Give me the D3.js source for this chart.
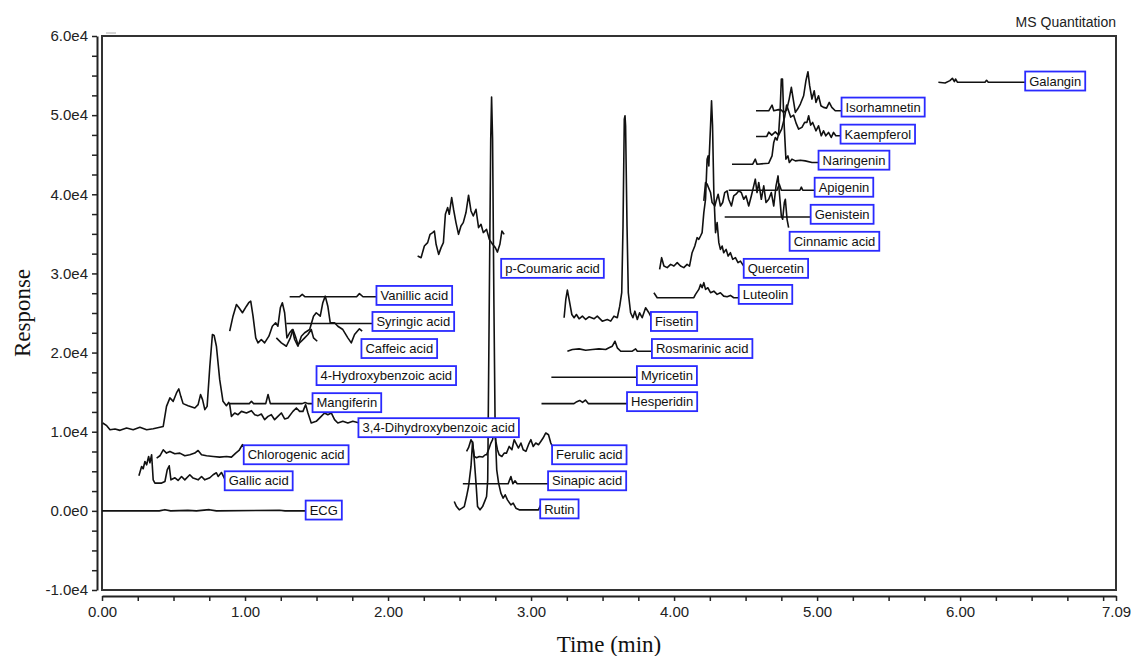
<!DOCTYPE html>
<html>
<head>
<meta charset="utf-8">
<script src="https://cdn.jsdelivr.net/npm/d3@7"></script>
<style>
  body { margin: 0; background: #fff; }
  text { font-family: Arial, "Liberation Sans", sans-serif; }
</style>
</head>
<body>
<div id="chart"></div>
<script>

// each trace: [time (min), response]
var ecg = [[0,0],[0.40,0],[0.44,150],[0.48,0],[0.60,60],[0.66,0],[0.75,150],[0.80,0],[1.24,80],[1.28,0],[1.424,0]];

var gallicAcid = [[0.258,4430],[0.277,5610],[0.288,5320],[0.300,6240],[0.312,5820],[0.326,6870],[0.335,6080],[0.347,7090],[0.358,3920],[0.370,3510],[0.417,3510],[0.440,3710],[0.456,5190],[0.470,5700],[0.482,3920],[0.510,4180],[0.532,3840],[0.556,4340],[0.579,3920],[0.614,4560],[0.637,4140],[0.672,3920],[0.696,4340],[0.719,3920],[0.754,4180],[0.777,4560],[0.800,4810],[0.812,4340],[0.835,4850],[0.858,4050]];

var chlorogenicAcid = [[0.382,6670],[0.405,6960],[0.428,7720],[0.451,7300],[0.475,7510],[0.509,7220],[0.544,7300],[0.579,6960],[0.614,7090],[0.649,7300],[0.672,7630],[0.696,7090],[0.731,6960],[0.777,6870],[0.823,6790],[0.870,6870],[0.905,6790],[0.935,7300],[0.958,7630],[0.982,8360],[0.998,7940]];

var dihydroxybenzoicAcid = [[0.005,11100],[0.033,10760],[0.056,10250],[0.091,10340],[0.126,10170],[0.172,10470],[0.218,10250],[0.265,10550],[0.312,10250],[0.358,10380],[0.428,10670],[0.451,13200],[0.475,14270],[0.498,13840],[0.521,14900],[0.537,15410],[0.551,14470],[0.567,13550],[0.602,13290],[0.649,13000],[0.672,13420],[0.689,14690],[0.703,14050],[0.719,12790],[0.735,13200],[0.754,18270],[0.772,22280],[0.784,22160],[0.800,20800],[0.823,16580],[0.846,13840],[0.870,13290],[0.886,13710],[0.893,13420],[0.905,11940],[0.928,12370],[0.951,12150],[0.975,12570],[1.010,12370],[1.045,12660],[1.068,12150],[1.091,12030],[1.114,12240],[1.137,11520],[1.161,11940],[1.184,12150],[1.207,11520],[1.230,11940],[1.254,12370],[1.277,11610],[1.300,11740],[1.335,12570],[1.359,13000],[1.382,12570],[1.405,12570],[1.424,13420],[1.440,12370],[1.463,11100],[1.498,11310],[1.533,11940],[1.556,12370],[1.579,12150],[1.603,12370],[1.626,11520],[1.649,11100],[1.684,11310],[1.719,11100],[1.754,11310],[1.800,11100]];

var mangiferin = [[0.893,13550],[1.030,13550],[1.045,13840],[1.060,13550],[1.145,13550],[1.161,14700],[1.177,13550],[1.400,13550],[1.420,13700],[1.440,13550],[1.472,13550]];

var hydroxybenzoicAcid = [[1.219,21860],[1.254,21230],[1.289,20800],[1.317,21860],[1.335,22910],[1.352,22070],[1.370,21020],[1.394,21430],[1.417,21860],[1.440,22280],[1.463,22910],[1.479,21860],[1.505,21430]];

var caffeicAcid = [[0.893,22700],[0.916,24600],[0.940,26080],[0.958,25660],[0.982,25030],[1.010,25860],[1.026,26300],[1.040,26500],[1.056,24600],[1.075,21860],[1.091,21230],[1.114,21650],[1.137,21230],[1.167,22070],[1.191,23330],[1.214,23760],[1.230,23330],[1.247,25660],[1.261,26300],[1.277,25030],[1.293,21860],[1.312,22500],[1.331,22910],[1.347,21650],[1.370,20800],[1.394,22070],[1.417,22500],[1.452,22910],[1.479,24600],[1.498,25030],[1.526,24600],[1.544,26300],[1.561,27130],[1.579,25860],[1.596,23760],[1.626,23760],[1.649,23330],[1.684,22910],[1.719,21860],[1.743,21230],[1.766,22280],[1.800,23000],[1.819,22700]];

var syringicAcid = [[1.289,23670],[1.891,23670]];

var vanillicAcid = [[1.312,27050],[1.380,27050],[1.400,27350],[1.420,27050],[1.780,27050],[1.800,27450],[1.825,27050],[1.919,27050]];

var pCoumaricAcid = [[2.207,32190],[2.231,31990],[2.254,33460],[2.277,33890],[2.294,34940],[2.312,35160],[2.324,35360],[2.336,33680],[2.354,32410],[2.371,33260],[2.387,33890],[2.401,37470],[2.417,38320],[2.428,37470],[2.445,39590],[2.458,38110],[2.475,36420],[2.493,34940],[2.510,35990],[2.526,36420],[2.545,37690],[2.563,39880],[2.580,37890],[2.596,37260],[2.615,38110],[2.633,35790],[2.650,36210],[2.666,35160],[2.689,35570],[2.708,34310],[2.731,33680],[2.750,33260],[2.765,32700],[2.782,33680],[2.796,35360],[2.812,34940]];

var ferulicAcid = [[2.549,7510],[2.563,7980],[2.580,8990],[2.591,8610],[2.603,6870],[2.619,6710],[2.638,6870],[2.661,6800],[2.680,7090],[2.689,7090],[2.708,7980],[2.719,8570],[2.731,8990],[2.743,10250],[2.754,8770],[2.765,7720],[2.777,7090],[2.796,6870],[2.812,7300],[2.828,7300],[2.847,8140],[2.866,7720],[2.882,8990],[2.894,8570],[2.912,7940],[2.929,8570],[2.945,7720],[2.964,7510],[2.982,8360],[2.999,8990],[3.015,8140],[3.033,8570],[3.052,8360],[3.068,8770],[3.084,9200],[3.103,9840],[3.122,9620],[3.138,8570],[3.149,8140]];

var sinapicAcid = [[2.523,3420],[2.840,3420],[2.859,4340],[2.873,3420],[2.888,3800],[2.903,3420],[3.119,3420]];

var rutin = [[2.463,1180],[2.479,540],[2.498,130],[2.517,340],[2.533,540],[2.549,1810],[2.563,3080],[2.580,5610],[2.591,8740],[2.603,6460],[2.615,3540],[2.626,540],[2.643,130],[2.661,540],[2.680,1390],[2.689,1810],[2.697,3920],[2.708,26710],[2.718,46970],[2.724,52290],[2.731,46970],[2.740,26710],[2.749,10250],[2.760,5190],[2.773,3510],[2.789,2240],[2.805,1610],[2.819,2030],[2.835,1390],[2.859,760],[2.875,970],[2.894,340],[2.917,130],[3.052,130],[3.068,760]];

var hesperidin = [[3.073,13550],[3.300,13550],[3.320,13800],[3.340,13950],[3.360,13700],[3.380,14000],[3.400,13550],[3.673,13550]];

var myricetin = [[3.142,16880],[3.743,16880]];

var rosmarinicAcid = [[3.254,20170],[3.289,20380],[3.336,20470],[3.382,20300],[3.429,20380],[3.475,20470],[3.522,20380],[3.545,20600],[3.568,20800],[3.587,21430],[3.603,20600],[3.627,20170],[3.708,20170],[3.731,20470],[3.743,20170],[3.847,20170]];

var fisetin = [[3.231,24400],[3.243,26710],[3.254,27890],[3.266,26710],[3.285,24810],[3.301,24400],[3.317,24810],[3.336,24270],[3.359,24600],[3.382,24180],[3.405,24520],[3.440,24270],[3.463,24600],[3.498,23970],[3.533,24180],[3.557,23970],[3.580,24600],[3.603,24400],[3.620,25860],[3.634,27560],[3.643,35990],[3.652,49500],[3.657,49920],[3.661,48650],[3.671,35990],[3.680,27560],[3.696,25030],[3.712,24400],[3.726,25230],[3.743,24180],[3.759,25030],[3.777,24400],[3.801,25660],[3.824,25030],[3.836,24600]];

var luteolin = [[3.859,27560],[3.882,26930],[4.138,26930],[4.150,27350],[4.173,27980],[4.185,28610],[4.196,28190],[4.208,28830],[4.220,27980],[4.236,28190],[4.255,27560],[4.278,27760],[4.301,27350],[4.324,27560],[4.347,27130],[4.371,27050],[4.394,27220],[4.417,26930],[4.452,26930]];

var quercetin = [[3.899,30510],[3.913,31990],[3.929,30930],[3.952,30730],[3.976,31140],[3.999,30930],[4.022,31360],[4.045,30930],[4.068,30730],[4.091,31140],[4.108,30930],[4.126,32620],[4.145,33460],[4.161,34520],[4.173,34310],[4.185,34730],[4.196,35160],[4.208,37690],[4.220,39370],[4.231,44440],[4.238,44850],[4.243,43590],[4.255,48650],[4.262,51820],[4.269,48650],[4.278,40220],[4.290,35160],[4.301,36420],[4.313,33890],[4.324,33040],[4.336,33460],[4.347,32620],[4.364,33040],[4.378,32190],[4.394,32620],[4.410,31780],[4.429,31990],[4.447,31360],[4.464,31560],[4.487,30930]];

var cinnamicAcid = [[4.208,39160],[4.220,41490],[4.231,41280],[4.255,40220],[4.266,38960],[4.285,38520],[4.294,39160],[4.308,40010],[4.324,38520],[4.340,38960],[4.354,40220],[4.371,40430],[4.382,39370],[4.401,38520],[4.417,39790],[4.433,40010],[4.452,40430],[4.470,40220],[4.487,39370],[4.503,39790],[4.522,38520],[4.540,39790],[4.557,41060],[4.568,41910],[4.580,40220],[4.592,41490],[4.610,39370],[4.627,41060],[4.643,38960],[4.662,39370],[4.680,40220],[4.697,38520],[4.713,41060],[4.727,42320],[4.736,40220],[4.750,37260],[4.759,36840],[4.771,38960],[4.778,39370],[4.790,36840],[4.801,35790]];

var genistein = [[4.354,37130],[4.968,37130]];

var apigenin = [[4.382,40510],[4.720,40510],[4.735,41300],[4.750,40510],[4.880,40510],[4.890,40900],[4.900,40510],[4.987,40510]];

var naringenin = [[4.405,43800],[4.550,43800],[4.568,44440],[4.580,43800],[4.662,43930],[4.685,44850],[4.697,46550],[4.708,47180],[4.720,46840],[4.731,47600],[4.742,50770],[4.750,54560],[4.758,54560],[4.766,50130],[4.773,47600],[4.782,44440],[4.796,44850],[4.806,44020],[4.824,44440],[4.848,44220],[4.883,44310],[4.917,44220],[4.964,44020],[5.010,44020]];

var kaempferol = [[4.573,47310],[4.648,47310],[4.662,47850],[4.683,47470],[4.708,47890],[4.731,47470],[4.752,48240],[4.773,49750],[4.787,51270],[4.801,50510],[4.815,49750],[4.836,50000],[4.853,48990],[4.871,48240],[4.894,48450],[4.913,49080],[4.929,49080],[4.941,49920],[4.955,48740],[4.969,49080],[4.992,48020],[5.010,48650],[5.029,47390],[5.045,48020],[5.061,47390],[5.080,47820],[5.099,47180],[5.115,47820],[5.131,47390],[5.162,47390]];

var isorhamnetin = [[4.573,50550],[4.662,50550],[4.685,51270],[4.697,50550],[4.731,50700],[4.750,50640],[4.766,50350],[4.787,50640],[4.805,52030],[4.820,53510],[4.833,52030],[4.848,50350],[4.864,50770],[4.883,51400],[4.906,52450],[4.922,54350],[4.936,55490],[4.948,53720],[4.964,52030],[4.980,53080],[4.992,51610],[5.010,52450],[5.027,51190],[5.045,50980],[5.066,50890],[5.085,51610],[5.103,50980],[5.127,50550],[5.173,50550]];

var galangin = [[5.848,54150],[5.895,54060],[5.929,54360],[5.946,54660],[5.960,54230],[5.968,54570],[5.982,54150],[6.174,54150],[6.185,54400],[6.197,54150],[6.453,54150]];

var traces = [ecg, gallicAcid, chlorogenicAcid, dihydroxybenzoicAcid, mangiferin, hydroxybenzoicAcid,
  caffeicAcid, syringicAcid, vanillicAcid, pCoumaricAcid, ferulicAcid, sinapicAcid, rutin,
  hesperidin, myricetin, rosmarinicAcid, fisetin, luteolin, quercetin, cinnamicAcid,
  genistein, apigenin, naringenin, kaempferol, isorhamnetin, galangin];

// label name, time of left edge, response of centre
var peakLabels = [
  ["ECG", 1.424, 100],
  ["Gallic acid", 0.858, 3800],
  ["Chlorogenic acid", 0.991, 7090],
  ["3,4-Dihydroxybenzoic acid", 1.793, 10510],
  ["Mangiferin", 1.472, 13670],
  ["4-Hydroxybenzoic acid", 1.500, 17090],
  ["Caffeic acid", 1.814, 20510],
  ["Syringic acid", 1.891, 23930],
  ["Vanillic acid", 1.919, 27220],
  ["p-Coumaric acid", 2.791, 30640],
  ["Ferulic acid", 3.147, 7090],
  ["Sinapic acid", 3.119, 3800],
  ["Rutin", 3.064, 250],
  ["Hesperidin", 3.671, 13800],
  ["Myricetin", 3.740, 17090],
  ["Rosmarinic acid", 3.845, 20510],
  ["Fisetin", 3.838, 23930],
  ["Luteolin", 4.452, 27350],
  ["Quercetin", 4.487, 30640],
  ["Cinnamic acid", 4.808, 34060],
  ["Genistein", 4.955, 37470],
  ["Apigenin", 4.983, 40890],
  ["Naringenin", 5.010, 44310],
  ["Kaempferol", 5.164, 47600],
  ["Isorhamnetin", 5.171, 51020],
  ["Galangin", 6.455, 54310]
];

var xTickValues = [0, 1, 2, 3, 4, 5, 6, 7.09];
var yTickValues = [-10000, 0, 10000, 20000, 30000, 40000, 50000, 60000];
var yTickLabels = ["-1.0e4", "0.0e0", "1.0e4", "2.0e4", "3.0e4", "4.0e4", "5.0e4", "6.0e4"];

var width = 1132, height = 656;
var plot = {left: 102, right: 1116, top: 36, bottom: 590};

var svg = d3.select("#chart").append("svg")
  .attr("width", width)
  .attr("height", height);

var xScale = d3.scaleLinear().domain([0, 7.09]).range([plot.left, plot.right]);
var yScale = d3.scaleLinear().domain([-10000, 60000]).range([plot.bottom, plot.top]);

// frame
svg.append("rect")
  .attr("x", plot.left)
  .attr("y", plot.top)
  .attr("width", plot.right - plot.left)
  .attr("height", plot.bottom - plot.top)
  .attr("fill", "none")
  .attr("stroke", "#333")
  .attr("stroke-width", 2);

svg.append("line")
  .attr("x1", 106).attr("x2", 116)
  .attr("y1", 33).attr("y2", 33)
  .attr("stroke", "#aaa");

// offset axes, Origin style
var minorX = d3.range(0, 7.01, 0.25).concat([7.09]);
var xAxis = d3.axisBottom(xScale)
  .tickValues(minorX)
  .tickSize(5)
  .tickSizeOuter(0)
  .tickFormat(function(d){ return xTickValues.indexOf(d) >= 0 ? d3.format(".2f")(d) : ""; });

svg.append("g")
  .attr("class", "x axis")
  .attr("transform", "translate(0," + (plot.bottom + 6) + ")")
  .call(xAxis);

var minorY = d3.range(-10000, 60001, 2500);
var yAxis = d3.axisLeft(yScale)
  .tickValues(minorY)
  .tickSize(5)
  .tickSizeOuter(0)
  .tickFormat(function(d){
    var i = yTickValues.indexOf(d);
    return i >= 0 ? yTickLabels[i] : "";
  });

svg.append("g")
  .attr("class", "y axis")
  .attr("transform", "translate(" + (plot.left - 5) + ",0)")
  .call(yAxis);

svg.selectAll(".axis path").attr("stroke", "#222").attr("stroke-width", 2);
svg.selectAll(".axis line").attr("stroke", "#222").attr("stroke-width", 1.5);
svg.selectAll(".axis text")
  .attr("fill", "#222")
  .style("font-size", "15px")
  .style("font-family", "Arial, 'Liberation Sans', sans-serif");
svg.selectAll(".x.axis text").attr("y", 10);
svg.selectAll(".y.axis text").attr("x", -9);

// traces
var line = d3.line()
  .x(function(d){ return xScale(d[0]); })
  .y(function(d){ return yScale(d[1]); });

svg.append("g")
  .selectAll("path")
  .data(traces)
  .enter()
  .append("path")
  .attr("d", line)
  .attr("fill", "none")
  .attr("stroke", "#111")
  .attr("stroke-width", 1.6)
  .attr("stroke-linejoin", "round");

// labelled boxes
var labels = svg.append("g")
  .selectAll("g")
  .data(peakLabels)
  .enter()
  .append("g")
  .attr("transform", function(d){ return "translate(" + xScale(d[1]) + "," + yScale(d[2]) + ")"; });

labels.append("rect");
labels.append("text")
  .attr("x", 4)
  .attr("dy", "0.36em")
  .attr("fill", "#111")
  .style("font-size", "13px")
  .text(function(d){ return d[0]; });

labels.each(function(){
  var g = d3.select(this);
  var w = g.select("text").node().getComputedTextLength();
  g.select("rect")
    .attr("x", 0)
    .attr("y", -9.5)
    .attr("width", w + 8)
    .attr("height", 19)
    .attr("fill", "#fff")
    .attr("stroke", "#2a2aff")
    .attr("stroke-width", 1.8);
});

// titles
svg.append("text")
  .attr("x", plot.right)
  .attr("y", 27)
  .attr("text-anchor", "end")
  .attr("fill", "#222")
  .style("font-size", "14px")
  .text("MS Quantitation");

svg.append("text")
  .attr("x", (plot.left + plot.right) / 2)
  .attr("y", 652)
  .attr("text-anchor", "middle")
  .attr("fill", "#111")
  .style("font-family", "'Liberation Serif', 'Times New Roman', serif")
  .style("font-size", "23px")
  .text("Time (min)");

svg.append("text")
  .attr("transform", "translate(30," + ((plot.top + plot.bottom) / 2) + ") rotate(-90)")
  .attr("text-anchor", "middle")
  .attr("fill", "#111")
  .style("font-family", "'Liberation Serif', 'Times New Roman', serif")
  .style("font-size", "23px")
  .text("Response");

</script>
</body>
</html>
